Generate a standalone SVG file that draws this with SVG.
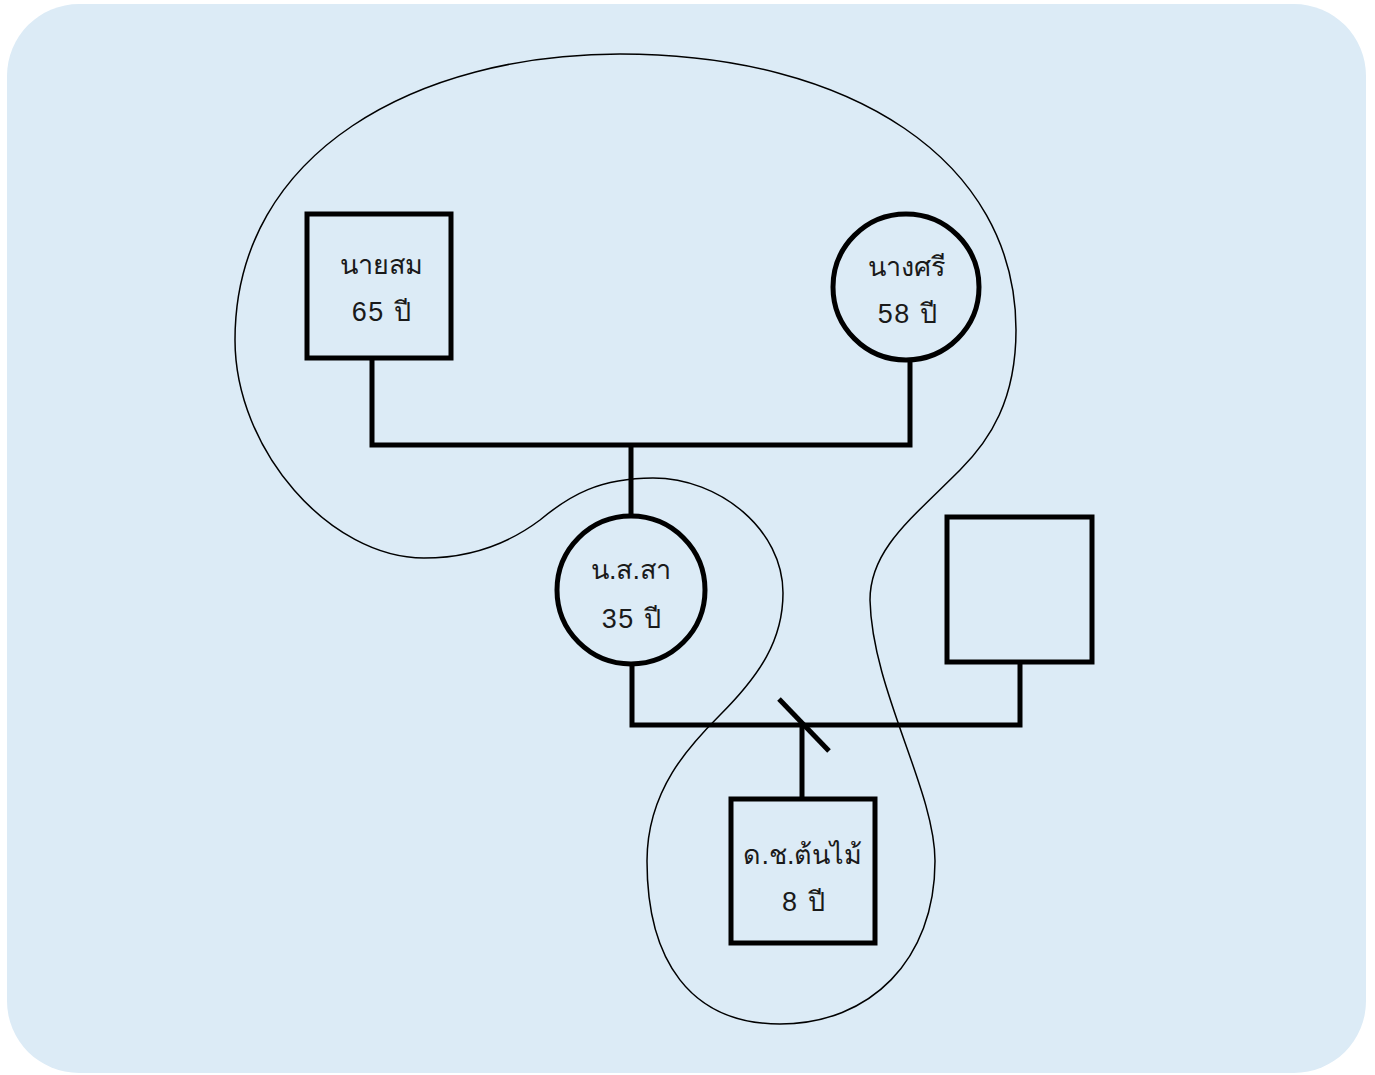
<svg xmlns="http://www.w3.org/2000/svg" width="1375" height="1075" viewBox="0 0 1375 1075">
  <style>
    .node { fill: none; stroke: #000; stroke-width: 5; }
    .link { fill: none; stroke: #000; stroke-width: 5; stroke-linecap: butt; }
    .boundary { fill: none; stroke: #000; stroke-width: 1.5; }
    .label { font-family: "Liberation Sans", "Noto Sans", sans-serif; font-size: 27px; fill: #1a1a1a; text-anchor: middle; }
    .age { letter-spacing: 1.5px; }
  </style>

  <!-- panel -->
  <rect x="7" y="4" width="1359" height="1069" rx="72" ry="72" fill="#dcebf6"/>

  <!-- household boundary -->
  <path class="boundary" d="M 620,54
    C 850,54 1016,160 1016,330
    C 1016,400 990,440 960,470
    C 910,520 870,550 870,600
    C 872,690 935,790 935,861
    C 935,960 870,1024 780,1024
    C 690,1024 647,960 647,861
    C 647,790 690,745 720,715
    C 760,675 783,640 783,593
    C 783,530 720,478 653,478
    C 600,478 570,495 540,520
    C 500,550 460,558 424,558
    C 330,558 235,450 235,340
    C 235,150 420,54 620,54 Z"/>

  <!-- connectors -->
  <g id="connectors">
    <polyline class="link" points="372,358 372,445 910,445 910,360"/>
    <line class="link" x1="631" y1="445" x2="631" y2="516"/>
    <polyline class="link" points="632,664 632,725 1020,725 1020,662"/>
    <line class="link" x1="802" y1="725" x2="802" y2="799"/>
    <line class="link" x1="779" y1="699" x2="829" y2="751"/>
  </g>

  <g id="node-naisom">
    <rect class="node" x="307" y="214" width="144" height="144"/>
    <text class="label" x="381" y="274">นายสม</text>
    <text class="label age" x="382" y="321">65 ปี</text>
  </g>

  <g id="node-nangsri">
    <circle class="node" cx="906" cy="287" r="73"/>
    <text class="label" x="907" y="276">นางศรี</text>
    <text class="label age" x="908" y="323">58 ปี</text>
  </g>

  <g id="node-nangsaosa">
    <circle class="node" cx="631" cy="590" r="74"/>
    <text class="label" x="631" y="579">น.ส.สา</text>
    <text class="label age" x="632" y="628">35 ปี</text>
  </g>

  <g id="node-partner">
    <rect class="node" x="947" y="517" width="145" height="145"/>
  </g>

  <g id="node-tonmai">
    <rect class="node" x="731" y="799" width="144" height="144"/>
    <text class="label" x="803" y="864">ด.ช.ต้นไม้</text>
    <text class="label age" x="804" y="911">8 ปี</text>
  </g>
</svg>
